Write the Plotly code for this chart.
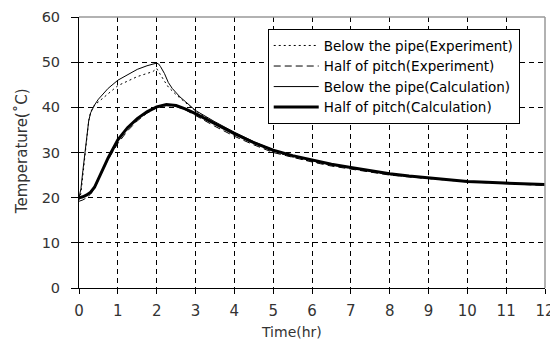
import plotly.graph_objects as go

# Below the pipe (Calculation)
t_bp_calc = [0, 0.05, 0.1, 0.15, 0.2, 0.25, 0.3, 0.4, 0.5, 0.6, 0.75, 1.0, 1.25, 1.5, 1.75, 1.9, 2.0,
             2.05, 2.1, 2.2, 2.3, 2.4, 2.5, 2.6, 2.75, 3.0, 3.5, 4, 4.5, 5, 5.5, 6, 7, 8, 9, 10, 11, 12]
T_bp_calc = [20, 22, 26, 30, 34, 37, 38.8, 40.5, 41.8, 42.8, 44.2, 46.0, 47.2, 48.4, 49.2, 49.6, 49.8,
             49.6, 49.0, 47.5, 45.5, 44.2, 43.3, 42.3, 41.2, 39.3, 36.8, 34.5, 32.4, 30.6, 29.3, 28.2,
             26.6, 25.2, 24.3, 23.6, 23.2, 22.9]

# Below the pipe (Experiment)
t_bp_exp = [0, 0.05, 0.1, 0.15, 0.2, 0.25, 0.3, 0.4, 0.5, 0.75, 1.0, 1.25, 1.5, 1.75, 1.9, 2.0, 2.05,
            2.1, 2.2, 2.3, 2.5, 2.75, 3.0, 3.5, 4, 4.5, 5, 5.5, 6, 6.5, 7, 7.5, 8, 8.5, 9, 9.5, 10,
            10.5, 11, 11.5, 12]
T_bp_exp = [19.5, 21, 25, 29.5, 34, 37, 39, 40.5, 41.2, 43.0, 44.8, 45.8, 46.8, 47.5, 47.9, 48.6, 48.0,
            47.2, 45.8, 44.5, 42.8, 41.0, 39.2, 36.5, 34.2, 32.0, 30.2, 29.0, 28.0, 27.2, 26.5, 25.8,
            25.1, 24.6, 24.2, 23.9, 23.6, 23.4, 23.2, 23.0, 22.8]

# Half of pitch (Calculation)
t_hp_calc = [0, 0.1, 0.2, 0.3, 0.4, 0.5, 0.6, 0.75, 1.0, 1.25, 1.5, 1.75, 2.0, 2.25, 2.5, 2.75, 3.0,
             3.5, 4, 4.5, 5, 5.5, 6, 6.5, 7, 7.5, 8, 8.5, 9, 9.5, 10, 10.5, 11, 11.5, 12]
T_hp_calc = [20, 20.2, 20.6, 21.2, 22.3, 24.2, 26.2, 28.8, 32.8, 35.5, 37.5, 39.0, 40.1, 40.6, 40.4,
             39.6, 38.6, 36.4, 34.2, 32.2, 30.5, 29.3, 28.3, 27.4, 26.7, 26.0, 25.3, 24.8, 24.4, 24.0,
             23.6, 23.4, 23.2, 23.0, 22.9]

# Half of pitch (Experiment)
t_hp_exp = [0, 0.1, 0.2, 0.3, 0.4, 0.5, 0.75, 1.0, 1.25, 1.5, 1.75, 2.0, 2.25, 2.5, 2.75, 3.0, 3.5,
            4, 4.5, 5, 5.5, 6, 6.5, 7, 7.5, 8, 8.5, 9, 9.5, 10, 10.5, 11, 11.5, 12]
T_hp_exp = [19.2, 19.5, 20.0, 20.8, 22.0, 24.0, 28.5, 32.0, 34.8, 37.0, 38.7, 39.9, 40.4, 40.2, 39.4,
            38.2, 35.8, 33.6, 31.7, 30.0, 28.9, 27.9, 27.0, 26.3, 25.6, 25.0, 24.6, 24.2, 23.9, 23.5,
            23.3, 23.1, 22.9, 22.7]

x_ticks = list(range(0, 13))
y_ticks = [0, 10, 20, 30, 40, 50, 60]

FONT = "DejaVu Sans"
TXT = "#333333"

fig = go.Figure()
fig.add_trace(go.Scatter(x=t_bp_exp, y=T_bp_exp, mode="lines", name="Below the pipe(Experiment)",
                         legendgroup="a", line=dict(color="black", width=1, dash="2px,3px")))
fig.add_trace(go.Scatter(x=t_hp_exp, y=T_hp_exp, mode="lines", name="Half of pitch(Experiment)",
                         legendgroup="b", line=dict(color="black", width=1, dash="7px,4px")))
fig.add_trace(go.Scatter(x=t_bp_calc, y=T_bp_calc, mode="lines", name="Below the pipe(Calculation)",
                         legendgroup="c", line=dict(color="black", width=1)))
fig.add_trace(go.Scatter(x=t_hp_calc, y=T_hp_calc, mode="lines", name="Half of pitch(Calculation)",
                         legendgroup="d", line=dict(color="black", width=3)))

# the page body has an 8px margin, so the figure is sized to fill the remaining window
fig.update_layout(
    width=550, height=331,
    margin=dict(l=71, r=13, t=9, b=51, autoexpand=False),
    paper_bgcolor="white", plot_bgcolor="white",
    font=dict(family=FONT, color=TXT, size=15),
    showlegend=True,
    legend=dict(x=0.405, y=0.955, xanchor="left", yanchor="top",
                bgcolor="white", bordercolor="black", borderwidth=1,
                font=dict(family=FONT, size=13.5, color="black"), itemwidth=45,
                tracegroupgap=1, traceorder="normal"),
    xaxis=dict(range=[0, 12], tickvals=x_ticks, ticktext=[str(v) for v in x_ticks],
               showline=True, linecolor="black", linewidth=1,
               ticks="outside", ticklen=5, tickcolor="black", ticklabelstandoff=4,
               ticklabeloverflow="allow",
               showgrid=True, gridcolor="black", gridwidth=1, griddash="5px,4px",
               zeroline=False, automargin=False, tickfont=dict(size=15, color=TXT)),
    yaxis=dict(range=[0, 60], tickvals=y_ticks, ticktext=[str(v) for v in y_ticks],
               showline=True, linecolor="black", linewidth=1,
               ticks="outside", ticklen=7, tickcolor="black", ticklabelstandoff=8,
               ticklabeloverflow="allow",
               showgrid=True, gridcolor="black", gridwidth=1, griddash="5px,4px",
               zeroline=False, automargin=False, tickfont=dict(size=14.5, color=TXT)),
    shapes=[
        dict(type="line", xref="paper", yref="paper", x0=0, x1=1, y0=1, y1=1,
             line=dict(color="#999999", width=1.5)),
        dict(type="line", xref="paper", yref="paper", x0=1, x1=1, y0=0, y1=1,
             line=dict(color="#999999", width=1.5)),
    ],
    annotations=[
        dict(text="Time(hr)", xref="paper", yref="paper", x=0.457, y=0, yanchor="middle",
             yshift=-44, showarrow=False, font=dict(size=14, color=TXT, family=FONT)),
        dict(text="Temperature(˚C)", xref="paper", yref="paper", x=-0.1223, y=0.505,
             xanchor="center", yanchor="middle", textangle=-90, showarrow=False,
             font=dict(size=15, color=TXT, family=FONT)),
    ],
)

fig.write_html("out.html")
